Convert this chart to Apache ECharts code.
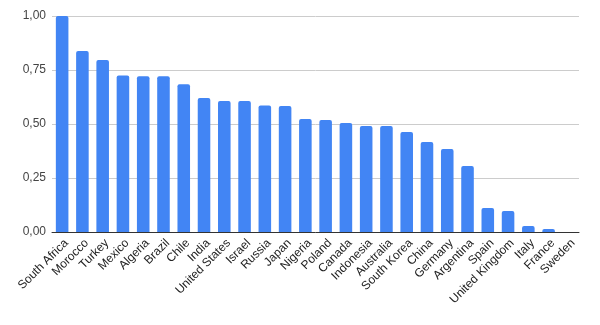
<!DOCTYPE html>
<html>
<head>
<meta charset="utf-8">
<script src="https://cdn.jsdelivr.net/npm/echarts@6/dist/echarts.min.js"></script>
<style>html,body{margin:0;padding:0;background:#fff}#c{width:600px;height:325px}</style>
</head>
<body>
<div id="c"></div>
<script>
const categories = ["South Africa","Morocco","Turkey","Mexico","Algeria","Brazil","Chile","India","United States","Israel","Russia","Japan","Nigeria","Poland","Canada","Indonesia","Australia","South Korea","China","Germany","Argentina","Spain","United Kingdom","Italy","France","Sweden"];
const values = [1.00,0.838,0.796,0.725,0.721,0.721,0.684,0.620,0.606,0.606,0.586,0.583,0.523,0.519,0.505,0.491,0.491,0.463,0.417,0.384,0.306,0.111,0.097,0.028,0.014,0.0];
const yTicks = [0,0.25,0.5,0.75,1];

const chart = echarts.init(document.getElementById('c'), null, {renderer:'canvas'});
chart.setOption({
  animation:false,
  grid:{left:52,right:21,top:16,bottom:93},
  xAxis:{
    type:'category', data:categories,
    axisTick:{show:false},
    axisLine:{lineStyle:{color:'#333',width:1}},
    axisLabel:{rotate:45,interval:0,fontFamily:'Liberation Sans, Arial, sans-serif',fontSize:12,color:'#222',margin:5,
      align:'right',verticalAlign:'top'}
  },
  yAxis:{
    type:'value', min:0, max:1, interval:0.25,
    axisLine:{show:false}, axisTick:{show:false},
    splitLine:{lineStyle:{color:'#ccc'}},
    axisLabel:{fontFamily:'Liberation Sans, Arial, sans-serif',fontSize:12,color:'#444',margin:6,
      formatter:v=>v.toFixed(2).replace('.',',')}
  },
  series:[{
    type:'bar', data:values, barCategoryGap:'38%',
    itemStyle:{color:'#4285f4',borderRadius:[2,2,0,0]}
  }]
});
</script>
</body>
</html>
